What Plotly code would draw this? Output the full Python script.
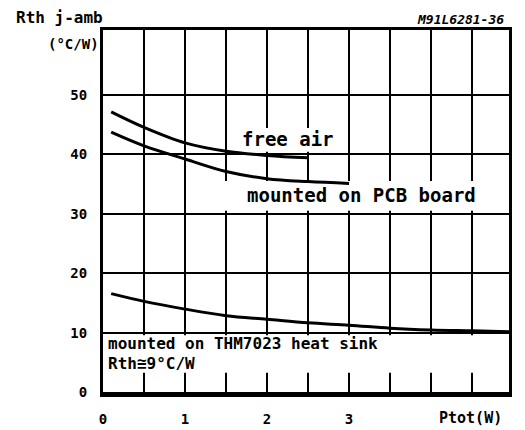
import plotly.graph_objects as go

# ---- data ----
x_free = [0.1, 0.5, 1.0, 1.5, 2.0, 2.5]
y_free = [47.1, 44.5, 41.9, 40.5, 39.8, 39.4]

x_pcb = [0.1, 0.5, 1.0, 1.5, 2.0, 2.5, 3.0]
y_pcb = [43.7, 41.4, 39.2, 37.1, 35.9, 35.4, 35.1]

x_sink = [0.1, 0.5, 1.0, 1.5, 2.0, 2.5, 3.0, 3.5, 4.0, 4.5, 4.95]
y_sink = [16.6, 15.3, 14.0, 12.9, 12.3, 11.7, 11.3, 10.8, 10.5, 10.35, 10.2]

x_tickvals = [0, 0.5, 1, 1.5, 2, 2.5, 3, 3.5, 4, 4.5]
x_ticktext = ["0", "", "1", "", "2", "", "3", "", "", ""]
y_tickvals = [0, 10, 20, 30, 40, 50]
y_ticktext = ["0", "10", "20", "30", "40", "50"]

FONT = "DejaVu Sans Mono"

fig = go.Figure()
for xs, ys in [(x_free, y_free), (x_pcb, y_pcb), (x_sink, y_sink)]:
    fig.add_trace(go.Scatter(x=xs, y=ys, mode="lines",
                             line=dict(color="black", width=3, shape="spline"),
                             showlegend=False, hoverinfo="skip"))

axis_common = dict(showgrid=True, gridcolor="black", gridwidth=2,
                   showline=True, linecolor="black", linewidth=3, mirror=True,
                   zeroline=False, ticks="", automargin=False,
                   tickfont=dict(family=FONT, size=14, color="black", weight="bold"))

fig.update_xaxes(range=[0, 4.95], tickmode="array", tickvals=x_tickvals,
                 ticktext=x_ticktext, ticklabelstandoff=10, **axis_common)
fig.update_yaxes(range=[-0.25, 60.85], tickmode="array", tickvals=y_tickvals,
                 ticktext=y_ticktext, ticklabelstandoff=10, **axis_common)

# white label backgrounds (between gridlines and traces)
for x0, x1, y0, y1 in [(1.56, 2.94, 40.4, 44.4), (1.39, 4.95, 30.5, 35.5), (0, 4.95, 3.3, 9.6)]:
    fig.add_shape(type="rect", x0=x0, x1=x1, y0=y0, y1=y1, xref="x", yref="y",
                  fillcolor="white", line=dict(width=0), layer="between")

def ann(text, x, y, xref, yref, size, xanchor="center", yanchor="middle", italic=False):
    fig.add_annotation(text=text, x=x, y=y, xref=xref, yref=yref, showarrow=False,
                       xanchor=xanchor, yanchor=yanchor, borderpad=0,
                       font=dict(family=FONT, size=size, color="black", weight="bold",
                                 style="italic" if italic else "normal"))

ann("free air", 2.26, 42.6, "x", "y", 19)
ann("mounted on PCB board", 3.15, 33.2, "x", "y", 19)
ann("mounted on THM7023 heat sink", 0.05, 8.2, "x", "y", 16, xanchor="left")
ann("Rth≅9°C/W", 0.05, 4.8, "x", "y", 16, xanchor="left")

ann("Rth j-amb", -0.2167, 1.0357, "paper", "paper", 16, xanchor="left")
ann("(°C/W)", -0.007, 0.9615, "paper", "paper", 14, xanchor="right")
ann("M91L6281-36", 0.990, 1.030, "paper", "paper", 13, xanchor="right", italic=True)
ann("Ptot(W)", 0.904, -0.066, "paper", "paper", 15)

fig.update_layout(width=517, height=422, margin=dict(l=95, r=16, t=22, b=36),
                  plot_bgcolor="white", paper_bgcolor="white")

fig.write_html("out.html")
